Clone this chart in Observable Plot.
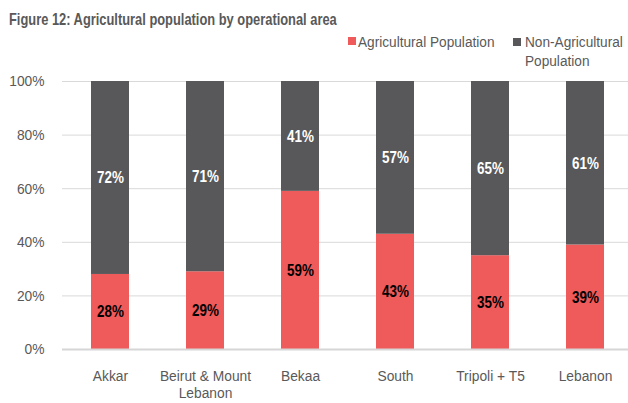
<!DOCTYPE html>
<html><head><meta charset="utf-8">
<script src="https://cdn.jsdelivr.net/npm/d3@7"></script>
<script src="https://cdn.jsdelivr.net/npm/@observablehq/plot@0.6"></script>
<style>
body{margin:0;background:#fff;font-family:"Liberation Sans",Arial,sans-serif;}
#wrap{position:relative;width:628px;height:403px;overflow:hidden}
.narrow{position:absolute;transform-origin:0 0;white-space:nowrap}
#title{left:9px;top:10.6px;font-weight:bold;font-size:16.5px;line-height:17px;color:#595959;transform:scaleX(0.78)}
.leg{font-size:15.5px;color:#595959;line-height:19px;transform:scaleX(0.88)}
.sw{position:absolute;width:8px;height:8px}
#chart{position:absolute;left:0;top:0}
</style></head>
<body><div id="wrap"><div id="chart"></div><div id="title" class="narrow"></div><div id="legend"></div></div>
<script>
const title = "Figure 12: Agricultural population by operational area";
const areas = ["Akkar","Beirut & Mount Lebanon","Bekaa","South","Tripoli + T5","Lebanon"];
const tickLabels = ["Akkar","Beirut & Mount\nLebanon","Bekaa","South","Tripoli + T5","Lebanon"];
const agricultural = [0.28,0.29,0.59,0.43,0.35,0.39];
const nonAgricultural = [0.72,0.71,0.41,0.57,0.65,0.61];
const seriesNames = ["Agricultural Population","Non-Agricultural Population"];
const legendLines = [["Agricultural Population"],["Non-Agricultural","Population"]];
const colors = ["#EF5A5B","#58585A"];
const labelColors = ["#000000","#ffffff"];
const yTicks = [0,0.2,0.4,0.6,0.8,1];
const NARROW_AXIS = 0.89;
const NARROW_LABEL = 0.79;

document.getElementById("title").textContent = title;
const legend = document.getElementById("legend");
const legPos = [{sx:348, sy:37, tx:358}, {sx:513, sy:38, tx:525}];
seriesNames.forEach((s,i)=>{
  const sw = document.createElement("div");
  sw.className="sw"; sw.style.left=legPos[i].sx+"px"; sw.style.top=legPos[i].sy+"px"; sw.style.background=colors[i];
  legend.appendChild(sw);
  const t = document.createElement("div");
  t.className="leg narrow"; t.style.left=legPos[i].tx+"px"; t.style.top="32px";
  t.innerHTML = legendLines[i].join("<br>");
  legend.appendChild(t);
});

const data = [];
seriesNames.forEach((s,si)=>{
  areas.forEach((a,i)=>{
    data.push({area:a, series:s, value: si===0 ? agricultural[i] : nonAgricultural[i]});
  });
});
const pct = d3.format(".0%");

const textMark = (si) => Plot.text(data, Plot.stackY({
  x:"area", y:"value", z:"series",
  text: d => d.series===seriesNames[si] ? pct(d.value) : "",
  fill: labelColors[si], fontWeight:"bold", fontSize:17
}));

const chart = Plot.plot({
  width:628, height:403,
  marginTop:81, marginBottom:54, marginLeft:62, marginRight:0,
  style:{fontFamily:'"Liberation Sans",Arial,sans-serif', fontSize:"15.5px", color:"#595959", background:"#fff"},
  x:{type:"band", domain:areas, range:[62,632], paddingInner:0.6, paddingOuter:0.3},
  y:{domain:[0,1]},
  color:{domain:seriesNames, range:colors},
  marks:[
    Plot.ruleY(yTicks, {stroke:"#d9d9d9", strokeWidth:1}),
    Plot.barY(data, {x:"area", y:"value", fill:"series", z:"series"}),
    Plot.ruleY([0], {stroke:"#d6d6d6", strokeWidth:2}),
    textMark(0), textMark(1),
    Plot.axisY({ticks:yTicks, tickFormat:pct, tickSize:0, tickPadding:18, fontSize:15.5, label:null}),
    Plot.axisX({tickFormat:(d)=>tickLabels[areas.indexOf(d)], tickSize:0, tickPadding:19.5, fontSize:15.5, lineHeight:1.1, label:null})
  ]
});
document.getElementById("chart").appendChild(chart);

// condense SVG texts horizontally (Arial Narrow look)
chart.querySelectorAll("text").forEach(t=>{
  const isAxis = !!t.closest('g[aria-label$="tick label"]');
  const f = isAxis ? NARROW_AXIS : NARROW_LABEL;
  const spans = t.querySelectorAll("tspan");
  const targets = spans.length ? Array.from(spans) : [t];
  targets.forEach(el=>{
    if (!el.textContent) return;
    const len = el.getComputedTextLength();
    if (len > 0) {
      el.setAttribute("textLength", (len*f).toFixed(2));
      el.setAttribute("lengthAdjust", "spacingAndGlyphs");
    }
  });
});
</script></body></html>
